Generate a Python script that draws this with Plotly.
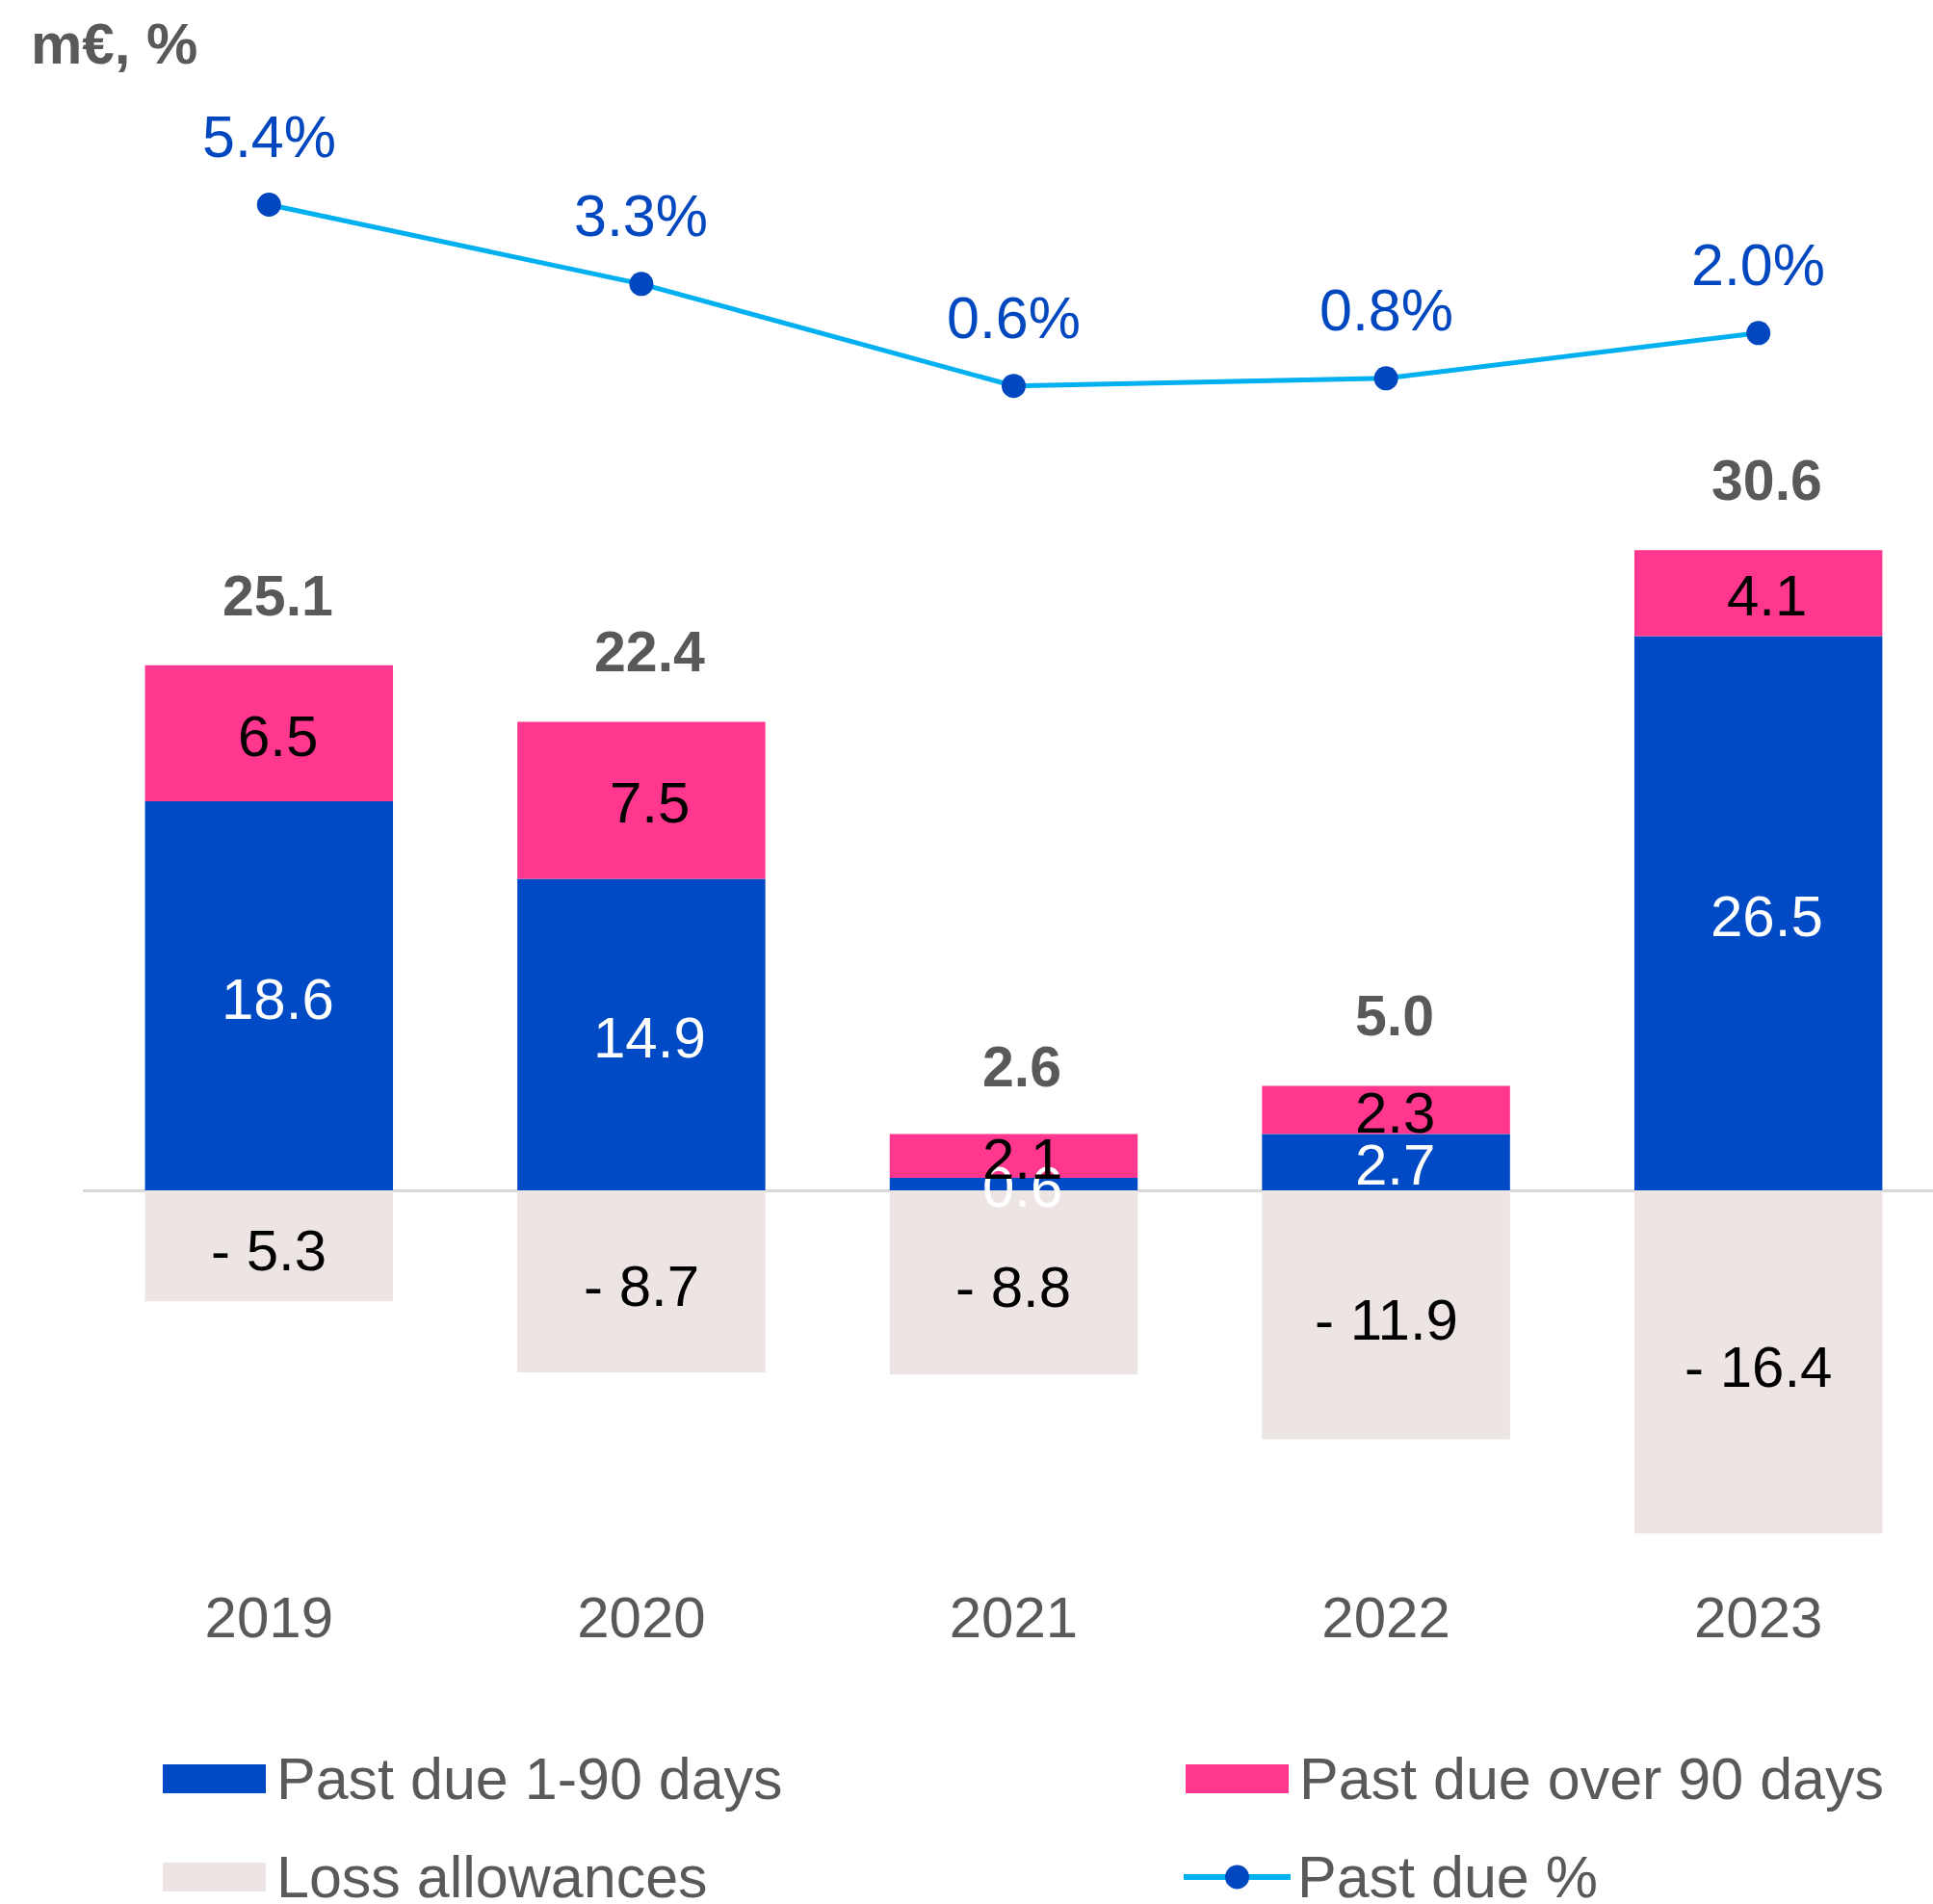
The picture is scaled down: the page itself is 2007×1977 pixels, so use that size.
import plotly.graph_objects as go

years = ["2019", "2020", "2021", "2022", "2023"]
past_due_1_90 = [18.6, 14.9, 0.6, 2.7, 26.5]
past_due_over_90 = [6.5, 7.5, 2.1, 2.3, 4.1]
loss_allowances = [-5.3, -8.7, -8.8, -11.9, -16.4]
totals = [25.1, 22.4, 2.6, 5.0, 30.6]
past_due_pct = [5.4, 3.3, 0.6, 0.8, 2.0]

FONT = "Liberation Sans, Arial, sans-serif"
BLUE = "#004AC6"
PINK = "#FF378F"
LOSS = "#EDE5E4"
CYAN = "#00B0F0"
MARK = "#0047C0"
GREY = "#595959"

W, H = 2007, 1977
L, R, T, B = 86, 0, 100, 1639

fig = go.Figure()
fig.add_trace(go.Bar(x=years, y=past_due_1_90, name="Past due 1-90 days",
                     marker=dict(color=BLUE, line=dict(width=0)), width=0.666))
fig.add_trace(go.Bar(x=years, y=past_due_over_90, name="Past due over 90 days",
                     marker=dict(color=PINK, line=dict(width=0)), width=0.666))
fig.add_trace(go.Bar(x=years, y=loss_allowances, name="Loss allowances",
                     marker=dict(color=LOSS, line=dict(width=0)), width=0.666))
fig.add_trace(go.Scatter(x=years, y=past_due_pct, name="Past due %", yaxis="y2",
                         mode="lines+markers",
                         line=dict(color=CYAN, width=5),
                         marker=dict(color=MARK, size=25)))

ann = []
for i, yr in enumerate(years):
    a, b, c = past_due_1_90[i], past_due_over_90[i], loss_allowances[i]
    ann.append(dict(x=i, y=a / 2, text=f"{a:.1f}", showarrow=False, xshift=9,
                    font=dict(family=FONT, size=60, color="white"), yanchor="middle", yshift=-3))
    ann.append(dict(x=i, y=a + b / 2, text=f"{b:.1f}", showarrow=False, xshift=9,
                    font=dict(family=FONT, size=60, color="black"), yanchor="middle", yshift=-3))
    ann.append(dict(x=i, y=c / 2, text=f"- {abs(c):.1f}", showarrow=False,
                    font=dict(family=FONT, size=60, color="black"), yanchor="middle", yshift=-5))
    ann.append(dict(x=i, y=totals[i], text=f"<b>{totals[i]:.1f}</b>", showarrow=False,
                    font=dict(family=FONT, size=59, color=GREY), yanchor="middle", yshift=72, xshift=9))
    ann.append(dict(x=i, y=past_due_pct[i], yref="y2", text=f"{past_due_pct[i]:.1f}%", showarrow=False,
                    font=dict(family=FONT, size=61, color=MARK), yanchor="middle", yshift=71))

def px(xp):
    return (xp - L) / (W - L - R)

def py(yp):
    return (B - yp) / (B - T)

ann.append(dict(xref="paper", yref="paper", x=px(30), y=py(46), text="<b>m€, %</b>",
                showarrow=False, xanchor="left", yanchor="middle",
                font=dict(family=FONT, size=60, color=GREY)))

shapes = []
legend_items = [
    ("Past due 1-90 days", "box", BLUE, 169, 1847),
    ("Past due over 90 days", "box", PINK, 1231, 1847),
    ("Loss allowances", "box", LOSS, 169, 1949),
    ("Past due %", "line", CYAN, 1229, 1949),
]
for name, kind, col, x0, yc in legend_items:
    if kind == "box":
        shapes.append(dict(type="rect", xref="paper", yref="paper",
                           x0=px(x0), x1=px(x0 + 107), y0=py(yc + 15), y1=py(yc - 15),
                           fillcolor=col, line=dict(width=0)))
    else:
        shapes.append(dict(type="line", xref="paper", yref="paper",
                           x0=px(x0), x1=px(x0 + 111), y0=py(yc), y1=py(yc),
                           line=dict(color=CYAN, width=6)))
        shapes.append(dict(type="circle", xref="paper", yref="paper",
                           x0=px(x0 + 43), x1=px(x0 + 68), y0=py(yc + 12.5), y1=py(yc - 12.5),
                           fillcolor=MARK, line=dict(width=0)))
    ann.append(dict(xref="paper", yref="paper", x=px(x0 + 117), y=py(yc), text=name,
                    showarrow=False, xanchor="left", yanchor="middle", borderpad=0,
                    font=dict(family=FONT, size=61, color=GREY)))

fig.update_layout(
    width=W, height=H,
    margin=dict(l=L, r=R, t=T, b=H - B, pad=0),
    barmode="relative",
    showlegend=False,
    plot_bgcolor="white", paper_bgcolor="white",
    font=dict(family=FONT, color=GREY),
    xaxis=dict(type="category", range=[-0.5, 4.469], showgrid=False, showline=False,
               ticks="", tickfont=dict(family=FONT, size=60, color=GREY)),
    yaxis=dict(range=[-18.55, 52.30], showgrid=False, zeroline=True,
               zerolinecolor="#D9D9D9", zerolinewidth=3, showticklabels=False),
    yaxis2=dict(range=[-30.99, 8.27], overlaying="y", side="right", showgrid=False,
                zeroline=False, showticklabels=False),
    annotations=ann,
    shapes=shapes,
)

fig.write_html("out.html", config={"displayModeBar": False},
               post_script="document.body.style.margin='0';document.body.style.overflow='hidden';")
